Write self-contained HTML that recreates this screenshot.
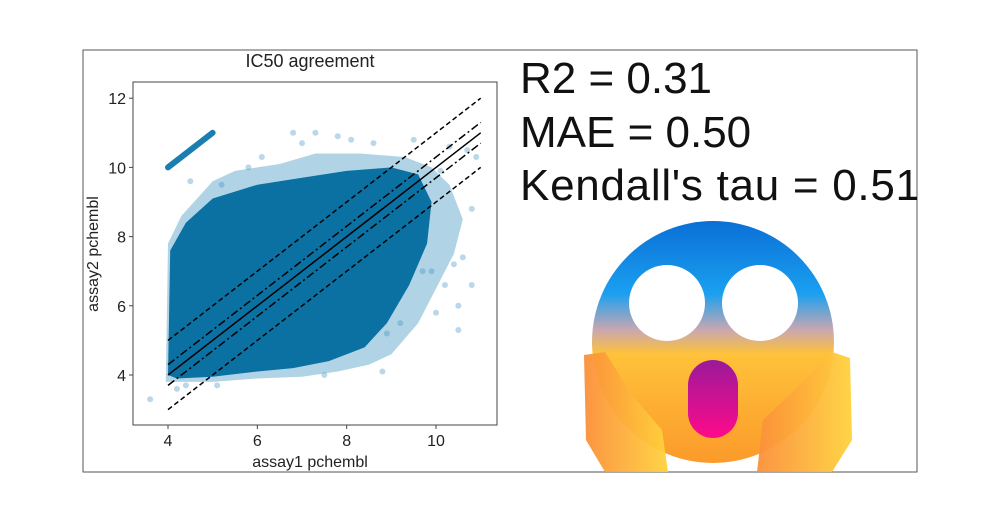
<!DOCTYPE html>
<html><head><meta charset="utf-8"><style>
html,body{margin:0;padding:0;background:#fff;width:1000px;height:523px;overflow:hidden}
svg{display:block;font-family:"Liberation Sans",Arial,sans-serif}
</style></head><body>
<svg id="fig" width="1000" height="523" viewBox="0 0 1000 523">
<defs>
<clipPath id="boxclip"><rect x="83" y="50" width="834" height="422"/></clipPath>
<clipPath id="plotclip"><rect x="133" y="82" width="364" height="343"/></clipPath>
<linearGradient id="faceg" x1="0" y1="0" x2="0" y2="1">
<stop offset="0" stop-color="#0a6fd6"/><stop offset="0.3" stop-color="#1aa0f0"/>
<stop offset="0.45" stop-color="#c9a7b0"/><stop offset="0.55" stop-color="#ffc23a"/>
<stop offset="1" stop-color="#fb9a2a"/></linearGradient>
<linearGradient id="mouthg" x1="0" y1="0" x2="0" y2="1">
<stop offset="0" stop-color="#9a1a9a"/><stop offset="1" stop-color="#ff0a8a"/></linearGradient>
<linearGradient id="handg" x1="0" y1="0" x2="1" y2="0">
<stop offset="0" stop-color="#fb8f3a"/><stop offset="1" stop-color="#ffd23c"/></linearGradient>
</defs>
<rect x="83" y="50" width="834" height="422" fill="#fff" stroke="#555" stroke-width="1"/>
<g clip-path="url(#boxclip)">
<text x="310" y="67" font-size="18" text-anchor="middle" fill="#222">IC50 agreement</text>
<g id="plot"></g>
<g id="axes"></g>
<text x="310" y="467" font-size="16" text-anchor="middle" fill="#222">assay1 pchembl</text>
<text transform="translate(98,254) rotate(-90)" font-size="16" text-anchor="middle" fill="#222">assay2 pchembl</text>
<g font-size="44" fill="#111">
<text x="520" y="93">R2 = 0.31</text>
<text x="520" y="147">MAE = 0.50</text>
<text x="520" y="200" textLength="400">Kendall's tau = 0.51</text>
</g>
<g>
<circle cx="713" cy="342" r="121" fill="url(#faceg)"/>
<circle cx="667" cy="303" r="38" fill="#fff"/>
<circle cx="760" cy="303" r="38" fill="#fff"/>
<rect x="688" y="360" width="50" height="78" rx="25" fill="url(#mouthg)"/>
<path d="M584 355 L605 352 L632 395 L662 430 L668 472 L605 472 L586 440 Z" fill="url(#handg)" opacity="0.95"/>
<path d="M757 472 L763 420 L800 385 L832 352 L850 358 L852 440 L832 472 Z" fill="url(#handg)" opacity="0.95"/>
</g>
</g>
</svg>
<script>
const NS="http://www.w3.org/2000/svg";
// data
const xTicks=[4,6,8,10];
const yTicks=[4,6,8,10,12];
const hullOuterX=[3.95,4.0,4.3,5.0,5.5,6.5,7.3,8.3,9.3,9.9,10.3,10.6,10.4,10.0,9.6,9.0,8.5,7.8,7.0,6.0,5.0,4.2];
const hullOuterY=[3.8,7.8,8.6,9.6,9.9,10.1,10.4,10.4,10.3,10.0,9.5,8.5,7.5,6.5,5.5,4.6,4.3,4.1,3.95,3.9,3.8,3.8];
const hullInnerX=[4.0,4.05,4.4,5.0,6.0,7.0,8.0,9.0,9.6,9.9,9.8,9.4,8.9,8.4,7.6,6.8,6.0,5.0,4.2];
const hullInnerY=[4.0,7.6,8.4,9.1,9.5,9.7,9.9,10.0,9.8,9.0,7.8,6.6,5.5,4.8,4.4,4.2,4.1,3.95,3.9];
const outX=[3.6,4.2,4.5,5.2,5.8,6.1,7.0,7.3,7.8,8.1,8.6,9.5,9.7,10.0,10.2,10.4,10.5,10.6,10.8,10.9,10.7,10.3,10.1,9.9,9.2,8.9,10.5,10.8,6.8,5.1,4.4,7.5,8.8];
const outY=[3.3,3.6,9.6,9.5,10.0,10.3,10.7,11.0,10.9,10.8,10.7,10.8,7.0,5.8,6.6,7.2,6.0,7.4,6.6,10.3,10.5,10.6,9.9,7.0,5.5,5.2,5.3,8.8,11.0,3.7,3.7,4.0,4.1];
const stripX=[4.0,5.0];
const stripOffset=6;
const diagOffsets=[0,0.3,-0.3,1,-1];
const diagStyles=["solid","dashdot","dashdot","dash","dash"];
const lineRange=[4,11];
// axes
const X=v=>168+(v-4)*44.67;
const Y=v=>375-(v-4)*34.6;
function mk(tag,attrs,parent){const e=document.createElementNS(NS,tag);for(const k in attrs)e.setAttribute(k,attrs[k]);parent.appendChild(e);return e;}
const plot=document.getElementById('plot');
const g=mk('g',{'clip-path':'url(#plotclip)'},plot);
const pts=(xs,ys)=>xs.map((x,i)=>X(x)+','+Y(ys[i])).join(' ');
let p=mk('polygon',{points:pts(hullOuterX,hullOuterY),fill:'#6fb1d0','fill-opacity':'0.55'},g);


p=mk('polygon',{points:pts(hullInnerX,hullInnerY),fill:'#0b70a2'},g);


outX.forEach((x,i)=>{const c=mk('circle',{cx:X(x),cy:Y(outY[i]),r:3,fill:'#3a8fbf','fill-opacity':'0.35'},g);

});
const s=mk('line',{x1:X(stripX[0]),y1:Y(stripX[0]+stripOffset),x2:X(stripX[1]),y2:Y(stripX[1]+stripOffset),stroke:'#1a7fb0','stroke-width':6,'stroke-linecap':'round'},g);


diagOffsets.forEach((o,i)=>{const st=diagStyles[i];
const l=mk('line',{x1:X(lineRange[0]),y1:Y(lineRange[0]+o),x2:X(lineRange[1]),y2:Y(lineRange[1]+o),stroke:'#000','stroke-width':1.5},g);
if(st==='dash')l.setAttribute('stroke-dasharray','5,3');
if(st==='dashdot')l.setAttribute('stroke-dasharray','8,3,2,3');

});
const axes=document.getElementById('axes');
const fr=mk('rect',{x:133,y:82,width:364,height:343,fill:'none',stroke:'#444','stroke-width':1},axes);


xTicks.forEach(t=>{mk('line',{x1:X(t),x2:X(t),y1:425,y2:429,stroke:'#444'},axes);
const tx=mk('text',{x:X(t),y:446,'font-size':16,'text-anchor':'middle',fill:'#222'},axes);tx.textContent=t;

});
yTicks.forEach(t=>{mk('line',{x1:129,x2:133,y1:Y(t),y2:Y(t),stroke:'#444'},axes);
const tx=mk('text',{x:126,y:Y(t)+6,'font-size':16,'text-anchor':'end',fill:'#222'},axes);tx.textContent=t;

});
</script>
</body></html>
